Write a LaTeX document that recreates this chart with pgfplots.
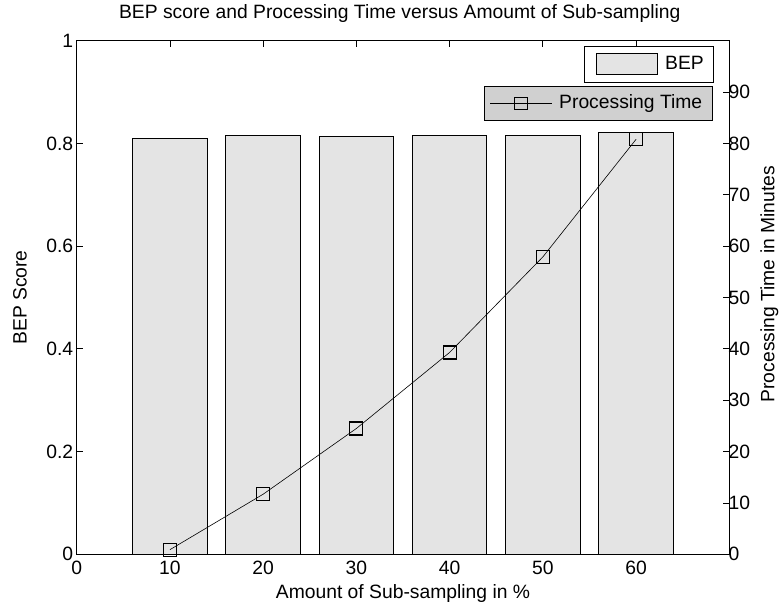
\documentclass[border=0pt]{standalone}
\usepackage{fontspec}
\setmainfont{Liberation Sans}
\usepackage{pgfplots}
\pgfplotsset{compat=1.18}
\definecolor{barfill}{RGB}{228,228,228}
\definecolor{legfill}{RGB}{208,208,208}
\newcommand\myf{\fontsize{19.3bp}{22bp}\selectfont}
\pgfplotstableread{
x bep
10 0.810
20 0.816
30 0.813
40 0.816
50 0.816
60 0.822
}\beptable
\pgfplotstableread{
x t
10 0.9
20 11.7
30 24.5
40 39.3
50 57.9
60 80.8
}\timetable
\begin{document}
\begin{tikzpicture}
\useasboundingbox (0,0) rectangle (781bp,610bp);
\pgfplotsset{
  every axis title shift=0pt,
  common/.style={
    at={(76.7bp,55.7bp)}, anchor=south west,
    scale only axis, width=652.6bp, height=513.6bp,
    xmin=0, xmax=70,
    tick align=inside,
    major tick length=6bp,
    every tick/.style={black, line width=0.8bp},
    /pgf/number format/assume math mode=true,
    font=\myf,
    tick label style={font=\myf},
    label style={font=\myf},
    axis line style={line width=1bp},
  }
}
\begin{axis}[common,
  ymin=0, ymax=1,
  xtick={0,10,...,60},
  xtick pos=both,
  xticklabel style={yshift=-3bp},
  ytick={0,0.2,0.4,0.6,0.8,1},
  yticklabels={0,0.2,0.4,0.6,0.8,1},
  ytick pos=left,
  xlabel={Amount of Sub-sampling in \%},
  xlabel style={at={(axis description cs:0.5,-0.0754)}, anchor=center},
  ylabel={BEP Score},
  ylabel style={at={(axis description cs:-0.0869,0.5)}, anchor=center, rotate=0},
  title={BEP score and Processing Time versus Amoumt of Sub-sampling},
  title style={at={(axis description cs:0.495,1.052)}, anchor=center, font=\myf},
  legend style={at={(axis description cs:0.977,0.9897)}, anchor=north east,
    fill=white, draw=black, line width=1bp, font=\myf,
    inner xsep=3.3bp, inner ysep=0bp,
    nodes={inner xsep=6.7bp, inner ysep=9.2bp, text height=13.6bp, text depth=4bp},
    cells={anchor=west}},
]
\addplot[ybar, bar width=8, fill=barfill, draw=black, line width=1bp,
  legend image code/.code={\path[draw=none,fill=none] (0bp,0bp) -- (69.7bp,0bp);
    \draw[fill=barfill,draw=black,line width=1bp] (8.7bp,-10.5bp) rectangle (69.7bp,10.5bp);}]
  table[x=x,y=bep]{\beptable};
\addlegendentry{BEP}
\end{axis}
\begin{axis}[common,
  ymin=0, ymax=100,
  axis x line=none,
  axis y line*=right,
  ytick={0,10,...,90},
  yticklabel style={xshift=-4.3bp},
  ylabel={Processing Time in Minutes},
  ylabel style={at={(axis description cs:1.0613,0.526)}, anchor=center, rotate=0},
  legend style={at={(axis description cs:0.9746,0.9118)}, anchor=north east,
    fill=legfill, draw=black, line width=1bp, font=\myf,
    inner xsep=3.3bp, inner ysep=0bp,
    nodes={inner xsep=6.7bp, inner ysep=8.2bp, text height=13.6bp, text depth=4bp},
    cells={anchor=west}},
]
\addplot[black, line width=0.6bp, mark=square, mark size=6.5bp,
  mark options={line width=1.1bp, fill=none},
  legend image code/.code={\path[draw=none,fill=none] (0bp,0bp) -- (64.7bp,0bp);
    \draw[black, line width=0.9bp] (2.7bp,0bp) -- (64.7bp,0bp);
    \draw[black, line width=1.1bp] (27.5bp,-6.2bp) rectangle (39.9bp,6.2bp);}]
  table[x=x,y=t]{\timetable};
\addlegendentry{Processing Time}
\end{axis}
\end{tikzpicture}
\end{document}
